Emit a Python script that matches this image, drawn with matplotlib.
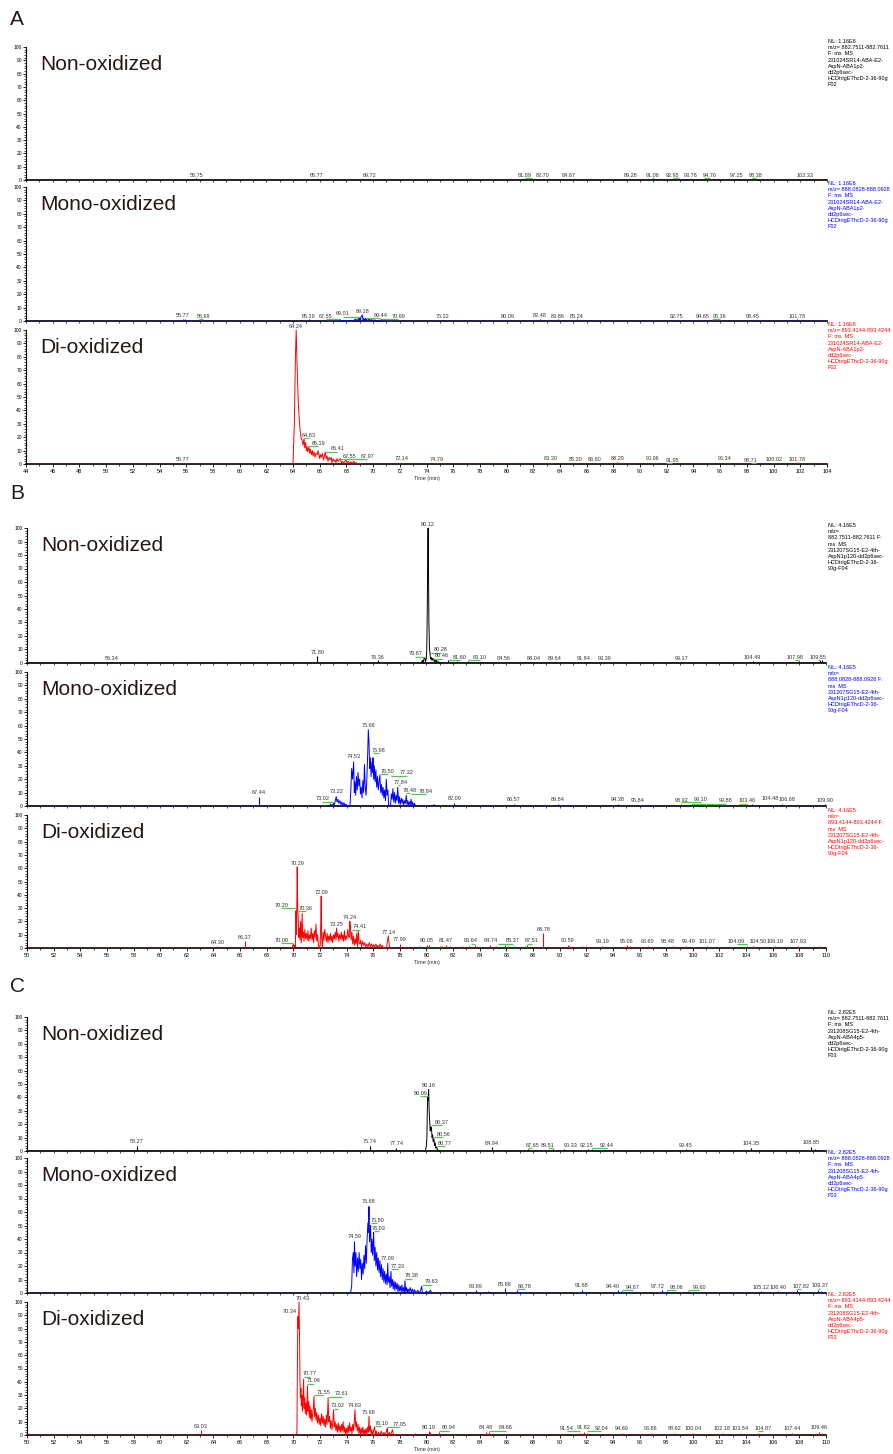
import matplotlib.pyplot as plt
from matplotlib.ticker import MultipleLocator

plt.rcParams['font.family'] = ['Liberation Sans', 'DejaVu Sans']

# ---------------- A ----------------
a_non_trace = []
a_non_spikes = [(56.75, 1.2), (65.77, 1.0), (69.72, 1.0), (81.89, 0.8), (82.70, 1.0), (83.6, 0.5),
                (84.2, 0.5), (84.67, 1.0), (85.0, 0.6), (89.28, 1.0), (91.06, 0.8), (92.4, 0.6),
                (92.95, 0.8), (93.76, 1.0), (94.6, 0.6), (94.76, 0.8), (97.25, 1.0), (98.38, 0.8),
                (99.5, 0.5), (101.0, 0.5), (102.33, 1.0)]
a_non_labels = [(56.75, 1.5), (65.77, 1.5), (69.72, 1.5), (81.89, 1.5), (82.70, 1.5), (84.67, 1.5),
                (89.28, 1.5), (91.06, 1.5), (92.95, 1.5), (93.76, 1.5), (94.76, 1.5), (97.25, 1.5),
                (98.38, 1.5), (102.33, 1.5)]
a_non_moved = {81.89: -0.5, 91.06: -0.15, 92.95: -0.5, 94.76: 0.45, 98.38: 0.3}
a_non_nudge = {}

a_mono_trace = [(67.3, 0), (67.5, 0), (67.55, 1.0), (67.6, 0), (68.0, 0), (68.3, 0.5), (68.5, 0),
                (68.7, 1.5), (68.8, 0), (68.9, 2.0), (69.0, 0.5), (69.01, 2.5), (69.05, 0), (69.1, 3.0),
                (69.18, 4.5), (69.25, 1.0), (69.3, 2.0), (69.4, 0.5), (69.44, 2.0), (69.5, 1.0),
                (69.6, 0.5), (69.7, 1.5), (69.8, 0.5), (69.9, 1.0), (70.0, 0.3), (70.1, 0.8), (70.3, 0),
                (70.5, 0.5), (70.69, 1.0), (70.8, 0)]
a_mono_spikes = [(55.77, 1.5), (55.9, 1.2), (56.1, 1.0), (56.99, 0.8), (65.19, 1.2), (75.22, 0.8),
                 (76.5, 0.5), (77.8, 0.5), (78.3, 0.5), (80.09, 0.8), (82.48, 1.5), (83.86, 1.2),
                 (85.24, 1.2), (85.5, 0.8), (87.0, 0.5), (92.75, 1.0), (94.65, 1.0), (95.36, 1.0),
                 (98.45, 1.0), (101.78, 1.2), (102.6, 0.8), (103.2, 0.8)]
a_mono_labels = [(55.77, 2.5), (56.99, 1.5), (65.19, 1.5), (67.55, 1.5), (69.01, 3.5), (69.18, 5.5),
                 (69.44, 2.5), (70.69, 1.5), (75.22, 1.5), (80.09, 1.5), (82.48, 2.0), (83.86, 1.5),
                 (85.24, 1.5), (92.75, 1.5), (94.65, 1.5), (95.36, 1.5), (98.45, 1.5), (101.78, 1.5)]
a_mono_moved = {56.99: 0.3, 67.55: -1.1, 69.01: -1.3, 69.44: 1.1, 70.69: 1.2, 95.36: 0.6}
a_mono_nudge = {}

a_di_trace = [(63.95, 0), (64.0, 0.5), (64.1, 30), (64.18, 80), (64.24, 100), (64.3, 75), (64.4, 45),
              (64.5, 28), (64.6, 20), (64.7, 17), (64.75, 14), (64.83, 19), (64.88, 12), (64.95, 16),
              (65.0, 10), (65.05, 13), (65.1, 9), (65.19, 13), (65.25, 8), (65.3, 11), (65.38, 7),
              (65.45, 10), (65.5, 6), (65.58, 9), (65.65, 5), (65.72, 8), (65.8, 7), (65.88, 10),
              (65.95, 6), (66.0, 4), (66.05, 7), (66.12, 5), (66.2, 8), (66.28, 3), (66.35, 6),
              (66.41, 9), (66.48, 4), (66.55, 6), (66.62, 2), (66.7, 5), (66.78, 3), (66.85, 5),
              (66.92, 1), (67.0, 4), (67.08, 2), (67.15, 3), (67.22, 1), (67.3, 4), (67.38, 2),
              (67.45, 3), (67.55, 4), (67.62, 1), (67.7, 2), (67.78, 0.5), (67.85, 1.5), (67.97, 3),
              (68.05, 1), (68.15, 2), (68.25, 0.5), (68.35, 1.5), (68.45, 0.5), (68.55, 2),
              (68.65, 0.5), (68.75, 1), (68.85, 0), (69.0, 0.3), (69.2, 0)]
a_di_spikes = [(55.77, 1.0), (56.2, 0.6), (72.14, 1.0), (74.79, 0.8), (77.0, 0.5), (77.5, 0.5),
               (78.0, 0.5), (81.0, 0.5), (83.30, 1.0), (83.5, 0.6), (84.3, 0.5), (85.20, 1.0),
               (86.60, 1.0), (87.5, 0.5), (88.29, 1.2), (88.6, 0.6), (90.96, 1.0), (91.95, 0.8),
               (96.34, 1.0), (98.71, 0.8), (100.02, 1.0), (101.78, 1.2), (102.1, 0.8), (103.2, 0.6)]
a_di_labels = [(55.77, 1.5), (64.24, 100.5), (64.83, 19.5), (65.19, 13.5), (66.41, 9.5), (67.55, 4),
               (67.97, 4), (72.14, 2), (74.79, 1.5), (83.30, 2), (85.20, 1.5), (86.60, 1.5),
               (88.29, 2), (90.96, 2), (91.95, 1), (96.34, 2), (98.71, 1), (100.02, 1.5),
               (101.78, 1.5)]
a_di_moved = {64.83: 0.35, 65.19: 0.7, 66.41: 0.9, 67.55: 0.7, 67.97: 1.6, 91.95: 0.45, 98.71: -0.4}
a_di_nudge = {}

# ---------------- B ----------------
b_non_trace = [(79.6, 0), (79.7, 2), (79.75, 0), (79.8, 3), (79.87, 4), (79.92, 1), (79.98, 3),
               (80.02, 10), (80.06, 40), (80.09, 80), (80.12, 100), (80.15, 70), (80.18, 30),
               (80.22, 12), (80.25, 8), (80.28, 5), (80.32, 3), (80.36, 4), (80.4, 2), (80.46, 3.5),
               (80.5, 2), (80.55, 3), (80.6, 1), (80.65, 2.5), (80.7, 1), (80.75, 2), (80.8, 0.5),
               (80.9, 1), (81.0, 0)]
b_non_spikes = [(56.34, 1.0), (71.80, 5.5), (73.5, 0.5), (76.36, 2), (77.5, 0.5), (78.5, 0.5),
                (79.3, 0.8), (81.60, 2), (82.3, 1.2), (83.10, 1.5), (83.4, 1), (84.0, 0.8),
                (84.56, 1.0), (88.04, 1.0), (89.64, 1.0), (91.84, 1.0), (93.39, 1.0), (99.17, 1.0),
                (104.49, 1.2), (105.5, 0.8), (106.0, 0.8), (107.2, 0.8), (107.5, 0.6), (107.98, 1.5),
                (108.3, 1), (109.55, 2), (109.7, 2.5)]
b_non_labels = [(56.34, 1.5), (71.80, 6), (76.36, 2.5), (79.87, 5), (80.12, 100.5), (80.28, 8),
                (80.46, 3.5), (81.60, 2.5), (83.10, 2.5), (84.56, 1.5), (88.04, 1.5), (89.64, 1.5),
                (91.84, 1.5), (93.39, 1.5), (99.17, 1.5), (104.49, 2), (107.98, 2.5), (109.55, 2.5)]
b_non_moved = {79.87: -0.7, 80.28: 0.8, 80.46: 0.7, 81.60: 0.9, 83.10: 0.9, 107.98: -0.3, 109.55: -0.15}
b_non_nudge = {84.56: 1.2}

b_mono_trace = [(72.7, 0), (72.8, 1.5), (72.9, 0), (73.02, 2), (73.08, 0.5), (73.15, 4), (73.22, 7),
                (73.28, 3), (73.35, 5), (73.42, 2), (73.5, 4), (73.58, 1), (73.65, 3), (73.72, 0.5),
                (73.8, 2.5), (73.88, 0), (73.95, 1.5), (74.02, 0), (74.25, 0), (74.32, 12),
                (74.38, 28), (74.45, 20), (74.53, 33), (74.58, 10), (74.63, 18), (74.68, 8),
                (74.74, 22), (74.8, 12), (74.86, 25), (74.92, 15), (74.98, 20), (75.04, 9),
                (75.1, 14), (75.16, 6), (75.22, 19), (75.28, 10), (75.34, 31), (75.4, 14),
                (75.46, 8), (75.52, 20), (75.58, 38), (75.63, 57), (75.68, 48), (75.73, 28),
                (75.78, 36), (75.84, 22), (75.9, 33), (75.95, 25), (75.98, 36), (76.03, 20),
                (76.08, 30), (76.14, 18), (76.2, 27), (76.26, 14), (76.32, 22), (76.38, 12),
                (76.44, 18), (76.5, 23), (76.56, 10), (76.62, 16), (76.68, 8), (76.74, 14),
                (76.8, 6), (76.86, 12), (76.92, 4), (76.98, 20), (77.04, 8), (77.1, 12), (77.16, 0),
                (77.3, 0), (77.36, 9), (77.42, 5), (77.48, 13), (77.54, 3), (77.6, 10), (77.66, 2),
                (77.72, 8), (77.78, 4), (77.84, 14), (77.9, 2), (77.96, 7), (78.02, 1), (78.1, 6),
                (78.16, 2), (78.22, 5), (78.28, 0.5), (78.36, 4), (78.42, 2), (78.48, 8), (78.54, 1),
                (78.6, 4), (78.66, 0.5), (78.72, 3), (78.78, 1), (78.84, 5), (78.9, 0.5), (78.96, 3),
                (79.02, 0), (79.1, 2), (79.18, 0)]
b_mono_spikes = [(67.44, 7), (65.0, 0.3), (70.0, 0.3), (72.2, 0.5), (79.6, 1.0), (80.5, 1.5),
                 (80.6, 1.5), (82.09, 2), (86.57, 1.2), (89.84, 1.2), (94.38, 1.2), (95.84, 0.8),
                 (98.92, 1.0), (99.10, 1.2), (99.88, 0.8), (103.46, 0.8), (104.48, 1.5),
                 (106.68, 1.5), (107.3, 1.0), (108.5, 1.0), (109.90, 1.2)]
b_mono_labels = [(67.44, 8), (73.02, 3.5), (73.22, 9), (74.53, 35), (75.66, 58.5), (75.98, 39.5),
                 (76.50, 24), (77.32, 23), (77.84, 16), (78.48, 10), (78.84, 9), (82.09, 3.5),
                 (86.57, 3), (89.84, 3), (94.38, 3), (95.84, 2), (98.92, 2), (99.10, 3),
                 (99.88, 2), (103.46, 2), (104.48, 3.5), (106.68, 3), (109.90, 2)]
b_mono_moved = {73.02: -0.85, 75.98: 0.45, 76.50: 0.6, 77.32: 1.2, 77.84: 0.2, 78.48: 0.25,
                78.84: 1.1, 99.10: 1.5, 99.88: 2.6, 103.46: 0.6}
b_mono_nudge = {98.92: 0.2, 104.48: 1.3, 106.68: 0.4}

b_di_trace = [(69.9, 0), (70.0, 3), (70.05, 1), (70.1, 2), (70.15, 0.5), (70.2, 28), (70.24, 10),
              (70.29, 61), (70.33, 30), (70.36, 25), (70.4, 8), (70.45, 15), (70.5, 6), (70.55, 20),
              (70.6, 4), (70.66, 26), (70.7, 8), (70.75, 12), (70.8, 5), (70.86, 14), (70.92, 7),
              (70.98, 11), (71.04, 6), (71.1, 13), (71.16, 5), (71.22, 10), (71.28, 7), (71.34, 15),
              (71.4, 6), (71.46, 11), (71.52, 4), (71.58, 13), (71.64, 8), (71.7, 18), (71.76, 5),
              (71.82, 10), (71.88, 3), (71.94, 0), (72.02, 2), (72.06, 20), (72.09, 39), (72.13, 8),
              (72.18, 0), (72.24, 12), (72.3, 6), (72.36, 14), (72.42, 9), (72.48, 5), (72.54, 11),
              (72.6, 4), (72.66, 9), (72.72, 6), (72.78, 11), (72.84, 5), (72.9, 9), (72.96, 4),
              (73.02, 10), (73.08, 7), (73.14, 12), (73.2, 6), (73.25, 15), (73.3, 8), (73.36, 11),
              (73.42, 5), (73.48, 10), (73.54, 7), (73.6, 12), (73.66, 6), (73.72, 10), (73.78, 5),
              (73.84, 13), (73.9, 6), (73.96, 9), (74.02, 7), (74.08, 14), (74.14, 9), (74.2, 8),
              (74.24, 20), (74.28, 17), (74.34, 6), (74.4, 12), (74.46, 3), (74.52, 9), (74.58, 2),
              (74.64, 7), (74.7, 3), (74.76, 11), (74.82, 1), (74.88, 13), (74.94, 4), (75.0, 3),
              (75.06, 6), (75.12, 1), (75.2, 5), (75.28, 2), (75.36, 4), (75.44, 1), (75.52, 3),
              (75.6, 0.5), (75.7, 4), (75.78, 1), (75.86, 3), (75.94, 0.5), (76.02, 2.5),
              (76.1, 0.5), (76.2, 3), (76.28, 0.5), (76.36, 2), (76.44, 0.5), (76.52, 3), (76.6, 1),
              (76.68, 2), (76.76, 0), (77.0, 0), (77.06, 5), (77.14, 9), (77.2, 2), (77.26, 0)]
b_di_spikes = [(60.0, 0.3), (62.5, 0.3), (64.30, 1.5), (66.37, 5), (77.99, 3), (78.6, 1), (79.5, 1.5),
               (80.05, 2.5), (80.2, 2), (81.0, 1.5), (81.2, 1.5), (81.47, 2.5), (81.8, 1.5),
               (82.7, 1.5), (83.2, 1.5), (83.64, 2.5), (84.74, 2.5), (85.2, 1.5), (85.9, 2),
               (86.1, 1.5), (86.6, 1.5), (87.4, 1.5), (87.51, 2), (88.78, 11), (90.59, 2.5),
               (90.7, 1.5), (91.7, 1.5), (92.0, 1.5), (93.19, 1.5), (93.6, 1), (94.6, 1), (95.06, 2),
               (95.3, 1.5), (96.60, 1.5), (97.2, 1), (98.48, 1.5), (99.49, 1.5), (100.2, 1),
               (101.07, 1.5), (102.3, 1), (103.6, 1), (104.09, 1.5), (104.50, 1.5), (105.4, 1),
               (106.19, 1.5), (106.8, 1), (107.93, 1.5), (108.7, 1), (109.5, 1.5)]
b_di_labels = [(64.30, 2.5), (66.37, 6), (70.00, 4), (70.20, 30), (70.29, 62), (70.36, 28),
               (72.09, 40), (73.25, 16), (74.24, 21), (74.41, 14), (77.14, 10), (77.99, 4.5),
               (80.05, 4), (81.47, 4), (83.64, 3.5), (84.74, 3.5), (85.37, 3.5), (87.51, 3.5),
               (88.78, 12), (90.59, 4), (93.19, 3), (95.06, 3), (96.60, 3), (98.48, 3), (99.49, 3),
               (101.07, 3), (104.09, 3), (104.50, 3), (106.19, 3), (107.93, 3)]
b_di_moved = {70.00: -0.9, 70.20: -1.1, 70.36: 0.6, 74.41: 0.6, 83.64: -0.3, 85.37: 1.1,
              87.51: 0.4, 104.09: -0.8}
b_di_nudge = {84.74: 0.1, 98.48: -0.4, 99.49: 0.2, 104.50: 0.4}

# ---------------- C ----------------
c_non_trace = [(79.9, 0), (79.98, 3), (80.03, 10), (80.06, 30), (80.09, 40), (80.12, 38),
               (80.16, 46), (80.2, 30), (80.24, 22), (80.28, 15), (80.33, 18), (80.37, 17),
               (80.42, 10), (80.46, 12), (80.5, 7), (80.56, 9), (80.6, 4), (80.66, 6), (80.7, 2),
               (80.77, 3), (80.82, 1), (80.9, 0.5), (81.0, 0)]
c_non_spikes = [(58.27, 4), (73.5, 0.5), (74.0, 0.5), (75.74, 4), (76.2, 0.5), (77.74, 2.5),
                (78.3, 0.5), (84.94, 3), (87.65, 1.5), (89.51, 1.5), (90.33, 1.5), (92.15, 1.5),
                (92.44, 1.5), (99.45, 1.5), (104.35, 2.5), (108.85, 3), (109.2, 1.5)]
c_non_labels = [(58.27, 5), (75.74, 5.5), (77.74, 4), (80.09, 41), (80.16, 47), (80.37, 19.5),
                (80.56, 10.5), (80.77, 4), (84.94, 4), (87.65, 2.5), (89.51, 2.5), (90.33, 2.5),
                (92.15, 2.5), (92.44, 2.5), (99.45, 2.5), (104.35, 3.5), (108.85, 4.5)]
c_non_moved = {80.09: -0.55, 80.37: 0.8, 80.56: 0.7, 80.77: 0.6, 87.65: 0.3, 89.51: -0.4, 92.44: 1.1}
c_non_nudge = {90.33: 0.5, 92.15: -0.1}

c_mono_trace = [(74.3, 0), (74.38, 5), (74.44, 25), (74.5, 30), (74.55, 15), (74.59, 38), (74.64, 20),
                (74.7, 30), (74.76, 12), (74.82, 26), (74.88, 16), (74.94, 30), (75.0, 18),
                (75.06, 25), (75.12, 10), (75.18, 22), (75.24, 14), (75.3, 28), (75.36, 18),
                (75.42, 35), (75.48, 22), (75.54, 40), (75.6, 52), (75.64, 45), (75.68, 64),
                (75.72, 38), (75.76, 44), (75.8, 50), (75.85, 30), (75.9, 40), (75.95, 28), (76.0, 38),
                (76.03, 45), (76.08, 24), (76.14, 34), (76.2, 20), (76.26, 30), (76.32, 17),
                (76.38, 26), (76.44, 15), (76.5, 24), (76.56, 12), (76.62, 21), (76.68, 10),
                (76.74, 18), (76.8, 8), (76.86, 16), (76.92, 7), (76.98, 14), (77.04, 6), (77.09, 22),
                (77.14, 8), (77.2, 12), (77.26, 4), (77.33, 16), (77.38, 5), (77.44, 10), (77.5, 3),
                (77.56, 9), (77.62, 2), (77.68, 8), (77.74, 3), (77.8, 7), (77.86, 1), (77.92, 6),
                (77.98, 1.5), (78.04, 5), (78.1, 1), (78.16, 6), (78.22, 1), (78.28, 4), (78.34, 0.5),
                (78.38, 9), (78.44, 1), (78.5, 4), (78.56, 0.5), (78.62, 3), (78.7, 0.5), (78.78, 4),
                (78.86, 0.5), (78.94, 3), (79.02, 0), (79.1, 2.5), (79.2, 0), (79.35, 2), (79.45, 0),
                (79.55, 1.5), (79.63, 5), (79.7, 0), (79.9, 0), (80.0, 1.5), (80.1, 0), (80.3, 2),
                (80.4, 0)]
c_mono_spikes = [(70.0, 0.3), (72.0, 0.3), (73.0, 0.5), (83.69, 2), (84.6, 1.5), (85.86, 3.5),
                 (86.78, 2), (91.68, 2.5), (94.40, 2), (94.67, 1.5), (97.72, 2), (98.06, 1.5),
                 (99.60, 1.5), (105.12, 1.5), (106.40, 1.5), (107.82, 2), (109.37, 2.5), (109.6, 1.5)]
c_mono_labels = [(74.59, 40), (75.68, 66), (75.80, 52), (76.03, 46), (77.09, 24), (77.33, 18),
                 (78.38, 11), (79.63, 6.5), (83.69, 3), (85.86, 4.5), (86.78, 3), (91.68, 3.5),
                 (94.40, 3), (94.67, 2.5), (97.72, 3), (98.06, 2.5), (99.60, 2.5), (105.12, 2.5),
                 (106.40, 2.5), (107.82, 3), (109.37, 3.5)]
c_mono_moved = {75.80: 0.5, 76.03: 0.4, 77.33: 0.5, 78.38: 0.5, 79.63: 0.75, 86.78: 0.6,
                94.67: 0.8, 98.06: 0.7, 99.60: 0.9, 107.82: 0.3, 109.37: 0.2}
c_mono_nudge = {94.40: -0.4, 97.72: -0.4}

c_di_trace = [(70.2, 0), (70.27, 2), (70.3, 45), (70.34, 89), (70.38, 80), (70.43, 100), (70.47, 70),
              (70.5, 40), (70.53, 28), (70.57, 35), (70.6, 22), (70.64, 30), (70.68, 18), (70.72, 26),
              (70.77, 42), (70.81, 20), (70.85, 28), (70.9, 16), (70.95, 24), (71.0, 15), (71.06, 37),
              (71.1, 18), (71.15, 25), (71.2, 13), (71.25, 22), (71.3, 12), (71.35, 19), (71.4, 10),
              (71.45, 16), (71.5, 20), (71.55, 29), (71.6, 14), (71.65, 20), (71.7, 11), (71.76, 17),
              (71.82, 9), (71.88, 15), (71.94, 8), (72.0, 13), (72.06, 7), (72.12, 16), (72.18, 9),
              (72.24, 14), (72.3, 7), (72.36, 12), (72.42, 6), (72.48, 15), (72.54, 8), (72.61, 28),
              (72.66, 10), (72.72, 14), (72.78, 5), (72.84, 11), (72.9, 4), (72.96, 9), (73.02, 19),
              (73.08, 6), (73.14, 10), (73.2, 3), (73.26, 8), (73.32, 2), (73.38, 9), (73.44, 3),
              (73.5, 7), (73.56, 2), (73.62, 8), (73.68, 3), (73.74, 10), (73.8, 2), (73.86, 6),
              (73.92, 0), (73.98, 5), (74.04, 1), (74.1, 7), (74.16, 2), (74.22, 9), (74.28, 3),
              (74.34, 6), (74.4, 1), (74.46, 8), (74.52, 3), (74.58, 11), (74.63, 19), (74.68, 6),
              (74.74, 10), (74.8, 3), (74.86, 8), (74.92, 1), (74.98, 6), (75.04, 0), (75.1, 5),
              (75.16, 1), (75.22, 6), (75.28, 0), (75.34, 4), (75.4, 1), (75.46, 5), (75.52, 0),
              (75.58, 6), (75.64, 2), (75.68, 14), (75.72, 3), (75.78, 7), (75.84, 0), (75.9, 4),
              (75.96, 0), (76.02, 3), (76.1, 6), (76.16, 0), (76.22, 3), (76.3, 0), (76.4, 2),
              (76.48, 0), (76.6, 3), (76.68, 0), (76.8, 2), (76.9, 0), (77.0, 3), (77.05, 5),
              (77.1, 0), (77.2, 2), (77.3, 0), (77.45, 4), (77.52, 0), (77.7, 0)]
c_di_spikes = [(63.03, 3.5), (78.1, 0.5), (78.6, 0.5), (79.1, 1.5), (80.19, 3), (80.3, 2.5),
               (80.94, 2), (84.48, 2.5), (84.66, 2), (91.54, 1.5), (91.82, 2.5), (92.04, 1.5),
               (94.69, 1.5), (96.86, 1.5), (97.1, 1), (98.62, 1.5), (100.04, 1.5), (102.18, 1.5),
               (103.54, 1.5), (104.87, 1.5), (107.44, 1.5), (109.46, 2.5), (109.7, 1.5)]
c_di_labels = [(63.03, 4.5), (70.34, 91), (70.43, 101), (70.77, 44), (71.06, 39), (71.55, 30),
               (72.61, 29), (73.02, 20), (74.63, 20), (75.68, 15), (76.10, 7), (77.05, 6),
               (80.19, 4), (80.94, 3.5), (84.48, 4), (84.66, 3.5), (91.54, 3), (91.82, 4),
               (92.04, 3), (94.69, 3), (96.86, 3), (98.62, 3), (100.04, 3), (102.18, 3),
               (103.54, 3), (104.87, 3), (107.44, 3), (109.46, 4)]
c_di_moved = {70.77: 0.45, 71.06: 0.5, 71.55: 0.7, 72.61: 1.05, 73.02: 0.3, 76.10: 0.5, 77.05: 0.95,
              80.94: 0.75, 84.66: 1.3, 91.54: -1.0, 92.04: 1.1, 104.87: 0.4}
c_di_nudge = {70.34: -0.6, 70.43: 0.25}

info_a = "NL: 1.16E6\nm/z= {}\nF: ms  MS\n231024SR14-ABA-E2-\nAspN-ABA1p2-\ndd2p6sec-\nHCDtrigEThcD-2-36-90g\nF02"
info_b = "NL: 4.16E5\nm/z=\n{} F:\nms  MS\n231207SG15-E2-4th-\nAspN1p120-dd2p6sec-\nHCDtrigEThcD-2-36-\n90g-F04"
info_c = "NL: 2.82E5\nm/z= {}\nF: ms  MS\n231208SG15-E2-4th-\nAspN-ABA4p5-\ndd2p6sec-\nHCDtrigEThcD-2-36-90g\nF03"
mz_ranges = ["882.7511-882.7611", "888.0828-888.0928", "893.4144-893.4244"]
titles = ["Non-oxidized", "Mono-oxidized", "Di-oxidized"]
colors = ["black", "#0000ff", "#ff0000"]

W, H = 893, 1454
fig = plt.figure(figsize=(W / 100, H / 100), dpi=100)


def draw_panel(top, bot, left, right, xlim, k, trace, spikes, labels, moved, nudge, info, info_top,
               bottom=False):
    ax = fig.add_axes([left / W, 1 - bot / H, (right - left) / W, (bot - top) / H])
    c = colors[k]
    ax.set_xlim(*xlim)
    ax.set_ylim(0, 100)
    for s in ['top', 'right']:
        ax.spines[s].set_visible(False)
    ax.spines['bottom'].set_linewidth(1.2)
    ax.spines['left'].set_linewidth(0.8)
    ax.axhline(0, color=c, lw=1.0, zorder=3)
    if trace:
        t, y = zip(*trace)
        ax.plot(t, y, color=c, lw=0.7, zorder=3, clip_on=False)
    st, sh = zip(*spikes)
    ax.vlines(st, 0, sh, color=c, lw=0.8, zorder=3)
    for rt, ly in labels:
        dx = moved.get(rt, nudge.get(rt, 0))
        ax.text(rt + dx, ly, '%.2f' % rt, ha='center', va='bottom', fontsize=4, color='#333333',
                zorder=5)
        if rt in moved:
            ax.plot([rt, rt + dx], [ly - 0.3, ly - 0.3], color='#55c455', lw=0.9, zorder=4,
                    solid_capstyle='butt')
    ax.yaxis.set_major_locator(MultipleLocator(10))
    ax.yaxis.set_minor_locator(MultipleLocator(2))
    ax.xaxis.set_major_locator(MultipleLocator(2))
    ax.xaxis.set_minor_locator(MultipleLocator(1))
    ax.tick_params(axis='y', which='major', labelsize=3.5, length=2.5, width=0.6, pad=0.5)
    ax.tick_params(axis='y', which='minor', length=1.3, width=0.5)
    if bottom:
        ax.tick_params(axis='x', which='major', labelsize=4, length=2.5, width=0.6, pad=1)
        ax.tick_params(axis='x', which='minor', length=1.5, width=0.5)
        ax.set_xlabel('Time (min)', fontsize=4, color='#333333', labelpad=1.5)
    else:
        ax.tick_params(axis='x', which='both', labelbottom=False, length=1.2, width=0.5)
    ax.text(0.0175, 1 - 23 / (bot - top), titles[k], transform=ax.transAxes, fontsize=15,
            color='#231815', va='baseline', ha='left')
    fig.text(828 / W, 1 - info_top / H, info.format(mz_ranges[k]), fontsize=4, color=c,
             va='top', ha='left', linespacing=1.3)
    return ax


# group letters
fig.text(10 / W, 1 - 25 / H, 'A', fontsize=15, color='#231815', va='baseline')
fig.text(10 / W, 1 - 499 / H, 'B', fontsize=15, color='#231815', va='baseline')
fig.text(10 / W, 1 - 992 / H, 'C', fontsize=15, color='#231815', va='baseline')

draw_panel(47, 180, 26, 827, (44, 104), 0, a_non_trace, a_non_spikes, a_non_labels,
           a_non_moved, a_non_nudge, info_a, 39)
draw_panel(187, 321, 26, 827, (44, 104), 1, a_mono_trace, a_mono_spikes, a_mono_labels,
           a_mono_moved, a_mono_nudge, info_a, 181)
draw_panel(330, 464, 26, 827, (44, 104), 2, a_di_trace, a_di_spikes, a_di_labels,
           a_di_moved, a_di_nudge, info_a, 322, bottom=True)

draw_panel(528, 663, 27, 826, (50, 110), 0, b_non_trace, b_non_spikes, b_non_labels,
           b_non_moved, b_non_nudge, info_b, 523)
draw_panel(672, 806, 27, 826, (50, 110), 1, b_mono_trace, b_mono_spikes, b_mono_labels,
           b_mono_moved, b_mono_nudge, info_b, 665)
draw_panel(815, 948, 27, 826, (50, 110), 2, b_di_trace, b_di_spikes, b_di_labels,
           b_di_moved, b_di_nudge, info_b, 808, bottom=True)

draw_panel(1017, 1151, 27, 826, (50, 110), 0, c_non_trace, c_non_spikes, c_non_labels,
           c_non_moved, c_non_nudge, info_c, 1010)
draw_panel(1158, 1293, 27, 826, (50, 110), 1, c_mono_trace, c_mono_spikes, c_mono_labels,
           c_mono_moved, c_mono_nudge, info_c, 1150)
draw_panel(1302, 1435, 27, 826, (50, 110), 2, c_di_trace, c_di_spikes, c_di_labels,
           c_di_moved, c_di_nudge, info_c, 1292, bottom=True)

fig.savefig('out.png', dpi=100, facecolor='white')
